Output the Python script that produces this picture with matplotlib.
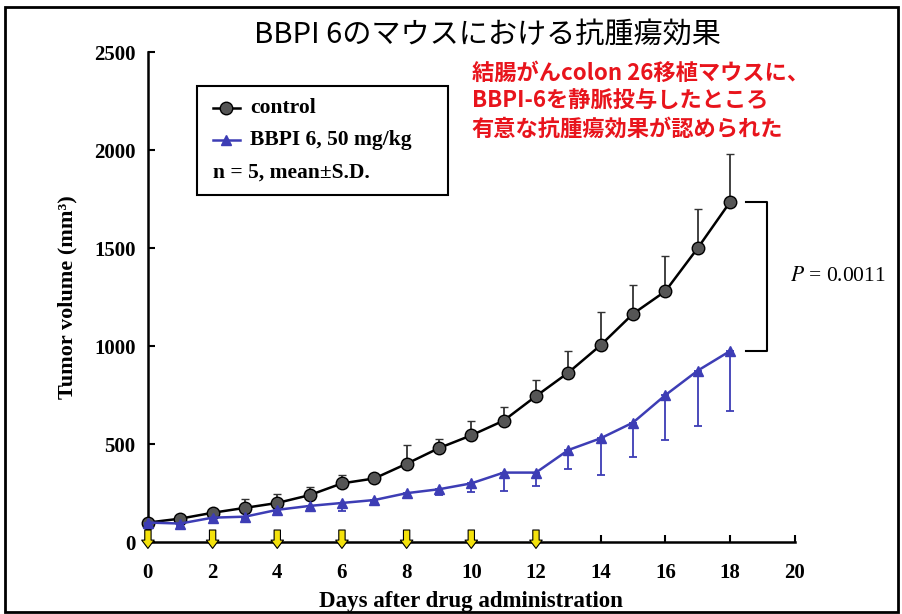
import matplotlib
matplotlib.use('Agg')
import matplotlib.pyplot as plt
from matplotlib.patches import Rectangle
from matplotlib.lines import Line2D

plt.rcParams['mathtext.fontset'] = 'stix'

# data
days = list(range(19))
control = [100, 120, 150, 175, 200, 240, 300, 325, 400, 480, 545, 620, 745, 865, 1005, 1165, 1280, 1500, 1735]
control_sd = [10, 10, 15, 45, 45, 40, 45, 20, 95, 45, 75, 70, 80, 110, 170, 145, 180, 200, 245]
bbpi = [100, 95, 125, 130, 165, 185, 200, 215, 250, 270, 300, 355, 355, 470, 530, 610, 750, 875, 975]
bbpi_sd = [10, 10, 10, 10, 10, 15, 40, 10, 25, 30, 45, 95, 70, 95, 185, 175, 230, 280, 305]
dose_days = [0, 2, 4, 6, 8, 10, 12]
x_ticks = list(range(0, 21, 2))
y_ticks = list(range(0, 2501, 500))

serif = 'Liberation Serif'
jp = ['Noto Sans CJK JP', 'DejaVu Sans']
blue = '#3d3db5'

fig = plt.figure(figsize=(9.02, 6.14), dpi=100)
ax = fig.add_axes([0.164, 0.117, 0.717, 0.798])

# control: upper error bars only
ax.errorbar(days, control, yerr=[[0] * len(control_sd), control_sd], color='black', lw=1.8,
            marker='o', ms=9, mfc='#555555', mec='black', mew=1.0,
            ecolor='#333333', elinewidth=1.3, capsize=3, capthick=1.3, clip_on=False, zorder=3)
# BBPI 6: lower error bars only
ax.errorbar(days, bbpi, yerr=[bbpi_sd, [0] * len(bbpi_sd)], color=blue, lw=1.8,
            marker='^', ms=6.5, mfc=blue, mec=blue,
            ecolor=blue, elinewidth=1.3, capsize=3, capthick=1.3, clip_on=False, zorder=4)

# dosing arrows
for d in dose_days:
    ax.annotate('', xy=(d, -32), xytext=(d, 62),
                arrowprops=dict(arrowstyle='simple,head_length=0.5,head_width=0.75,tail_width=0.38',
                                fc='#f4e20c', ec='black', lw=0.8, mutation_scale=12,
                                shrinkA=0, shrinkB=0),
                annotation_clip=False, zorder=5)

# significance bracket
bx0, bx1 = 18.5, 19.15
ax.plot([bx0, bx1, bx1, bx0], [control[-1], control[-1], bbpi[-1], bbpi[-1]],
        color='black', lw=1.5, clip_on=False)
ax.text(19.85, (control[-1] + bbpi[-1]) / 2, r'$P$ = 0.0011', family=serif, fontsize=15.5,
        va='center', ha='left', clip_on=False)

ax.set_xlim(0, 20)
ax.set_ylim(0, 2500)
ax.set_xticks(x_ticks)
ax.set_yticks(y_ticks)
for s in ['top', 'right']:
    ax.spines[s].set_visible(False)
for s in ['left', 'bottom']:
    ax.spines[s].set_linewidth(1.8)
ax.tick_params(direction='in', length=5, width=1.5, pad=9)
ax.tick_params(axis='x', pad=15)
for lab in ax.get_xticklabels() + ax.get_yticklabels():
    lab.set_fontfamily(serif)
    lab.set_fontweight('bold')
    lab.set_fontsize(15)

ax.set_ylabel('Tumor volume (mm³)', family=serif, fontweight='bold', fontsize=16, labelpad=12)
ax.set_xlabel('Days after drug administration', family=serif, fontweight='bold', fontsize=16.5, labelpad=6)

# legend box drawn by hand (third line has no marker)
ax.add_patch(Rectangle((0.0757, 0.708), 0.388, 0.223, transform=ax.transAxes,
                       fill=False, ec='black', lw=1.5, clip_on=False))
ax.add_line(Line2D([0.1005, 0.1422], [0.886, 0.886], transform=ax.transAxes, color='black', lw=1.8))
ax.plot([0.121], [0.886], transform=ax.transAxes, marker='o', ms=9, mfc='#555555', mec='black')
ax.add_line(Line2D([0.1005, 0.1422], [0.820, 0.820], transform=ax.transAxes, color=blue, lw=1.8))
ax.plot([0.121], [0.820], transform=ax.transAxes, marker='^', ms=6.5, color=blue)
ax.text(0.158, 0.886, 'control', transform=ax.transAxes, family=serif, fontweight='bold',
        fontsize=15.5, va='center')
ax.text(0.158, 0.820, 'BBPI 6, 50 mg/kg', transform=ax.transAxes, family=serif, fontweight='bold',
        fontsize=15.5, va='center')
ax.text(0.1005, 0.755, 'n = 5, mean±S.D.', transform=ax.transAxes, family=serif, fontweight='bold',
        fontsize=15.5, va='center')

# titles
fig.text(0.54, 0.943, 'BBPI 6のマウスにおける抗腫瘍効果', family=jp, fontsize=21, ha='center', va='center')
fig.text(0.523, 0.9, '結腸がんcolon 26移植マウスに、\nBBPI-6を静脈投与したところ\n有意な抗腫瘍効果が認められた',
         family=jp, fontsize=16, fontweight='bold', color='#e8141c', ha='left', va='top', linespacing=1.3)

# outer frame
fig.add_artist(Rectangle((0.006, 0.003), 0.99, 0.985, transform=fig.transFigure,
                         fill=False, ec='black', lw=2))

fig.savefig('out.png', dpi=100)
